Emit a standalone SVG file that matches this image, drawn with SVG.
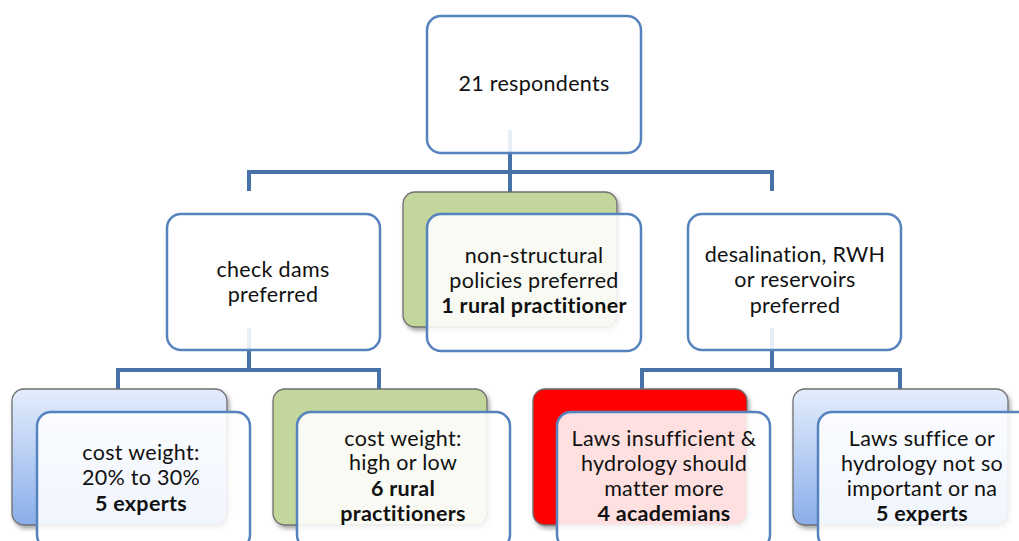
<svg xmlns="http://www.w3.org/2000/svg" width="1019" height="541" viewBox="0 0 1019 541">
  <style>
    .link { fill: none; stroke: #4672a8; stroke-width: 4; stroke-linejoin: miter; stroke-linecap: butt; }
    .card { fill: #ffffff; fill-opacity: 0.88; stroke: #5583bd; stroke-width: 2.5; }
    .back { stroke: #6f6f6f; stroke-width: 1.3; filter: url(#shade); }
    .green { fill: #c3d69b; }
    .red { fill: #ff0000; }
    .blue { fill: url(#blueFade); }
    text { font-family: Lato, "Liberation Sans", sans-serif; font-size: 21.5px; letter-spacing: 0.3px; fill: #111111; text-anchor: middle; }
    .b { font-weight: bold; }
  </style>
  <defs>
    <linearGradient id="blueFade" x1="0" y1="0" x2="0" y2="1">
      <stop offset="0" stop-color="#e4edfc"/>
      <stop offset="1" stop-color="#8aaeea"/>
    </linearGradient>
    <filter id="shade" x="-10%" y="-10%" width="125%" height="130%">
      <feDropShadow dx="2" dy="3" stdDeviation="2.2" flood-color="#000000" flood-opacity="0.35"/>
    </filter>
  </defs>

  <rect width="1019" height="541" fill="#ffffff"/>

  <!-- tree connectors, drawn beneath the cards -->
  <g id="connectors">
    <path class="link" d="M510 130 V172 M249 191 V172 H772 V191 M510 172 V194"/>
    <path class="link" d="M249 328 V370 M118 391 V370 H379 V391"/>
    <path class="link" d="M772 328 V370 M642 391 V370 H900 V391"/>
  </g>

  <g id="root">
    <rect class="card" x="427" y="16" width="214" height="137" rx="14"/>
    <text x="534" y="91">21 respondents</text>
  </g>

  <g id="check-dams">
    <rect class="card" x="167" y="214" width="213" height="136" rx="14"/>
    <text x="273" y="277">check dams</text>
    <text x="273" y="302">preferred</text>
  </g>

  <g id="non-structural">
    <rect class="back green" x="403" y="192" width="214" height="135" rx="12"/>
    <rect class="card" x="427" y="214" width="214" height="137" rx="14"/>
    <text x="534" y="263">non-structural</text>
    <text x="534" y="288">policies preferred</text>
    <text x="534" y="313" class="b">1 rural practitioner</text>
  </g>

  <g id="desalination">
    <rect class="card" x="688" y="214" width="213" height="136" rx="14"/>
    <text x="795" y="262">desalination, RWH</text>
    <text x="795" y="287">or reservoirs</text>
    <text x="795" y="313">preferred</text>
  </g>

  <g id="cost-20-30">
    <rect class="back blue" x="12" y="389" width="215" height="136" rx="12"/>
    <rect class="card" x="37" y="412" width="213" height="137" rx="14"/>
    <text x="141" y="460">cost weight:</text>
    <text x="141" y="485">20% to 30%</text>
    <text x="141" y="511" class="b">5 experts</text>
  </g>

  <g id="cost-high-low">
    <rect class="back green" x="273" y="389" width="214" height="136" rx="12"/>
    <rect class="card" x="297" y="412" width="213" height="137" rx="14"/>
    <text x="403" y="446">cost weight:</text>
    <text x="403" y="470">high or low</text>
    <text x="403" y="496" class="b">6 rural</text>
    <text x="403" y="521" class="b">practitioners</text>
  </g>

  <g id="laws-insufficient">
    <rect class="back red" x="533" y="389" width="214" height="136" rx="12"/>
    <rect class="card" x="557" y="412" width="213" height="137" rx="14"/>
    <text x="664" y="446">Laws insufficient &amp;</text>
    <text x="664" y="471">hydrology should</text>
    <text x="664" y="496">matter more</text>
    <text x="664" y="521" class="b">4 academians</text>
  </g>

  <g id="laws-suffice">
    <rect class="back blue" x="793" y="389" width="215" height="136" rx="12"/>
    <rect class="card" x="818" y="412" width="214" height="137" rx="14"/>
    <text x="922" y="446">Laws suffice or</text>
    <text x="922" y="471">hydrology not so</text>
    <text x="922" y="496">important or na</text>
    <text x="922" y="521" class="b">5 experts</text>
  </g>
</svg>
